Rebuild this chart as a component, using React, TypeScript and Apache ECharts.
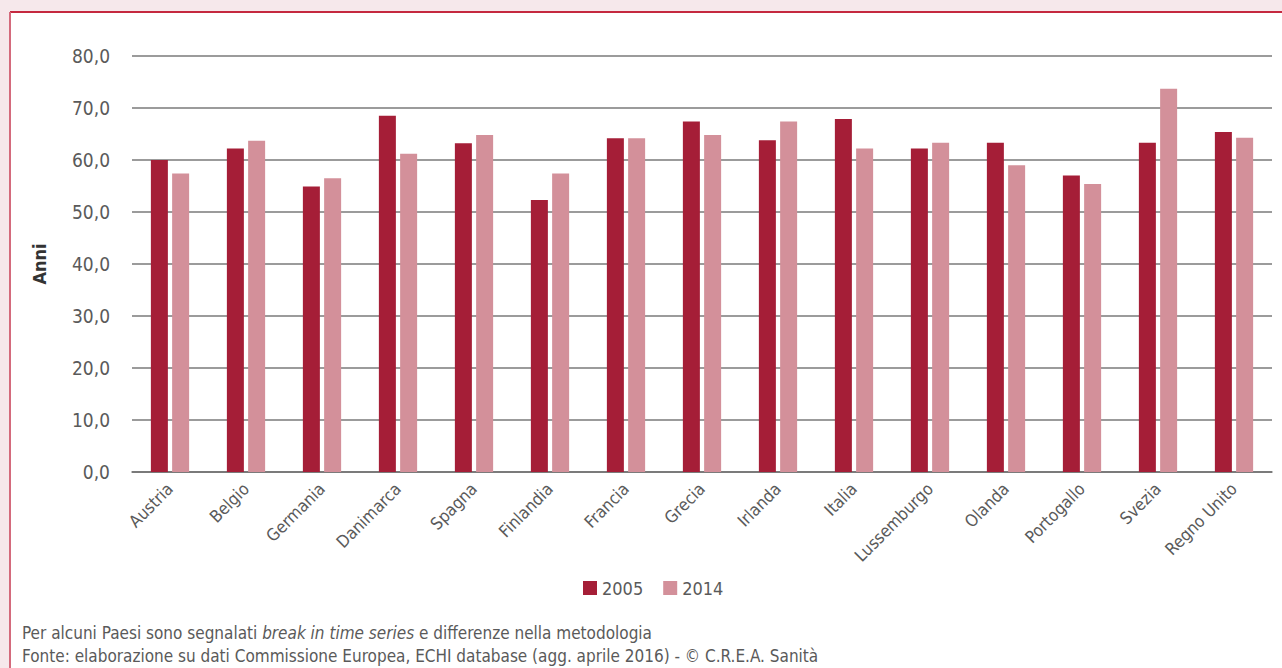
import React, { useEffect, useRef } from "react";
import * as echarts from "echarts";

const categories = [
  "Austria", "Belgio", "Germania", "Danimarca", "Spagna", "Finlandia", "Francia",
  "Grecia", "Irlanda", "Italia", "Lussemburgo", "Olanda", "Portogallo", "Svezia", "Regno Unito",
];
const values2005 = [60.0, 62.2, 54.9, 68.5, 63.2, 52.3, 64.2, 67.4, 63.8, 67.9, 62.2, 63.3, 57.0, 63.3, 65.4];
const values2014 = [57.4, 63.7, 56.5, 61.2, 64.8, 57.4, 64.2, 64.8, 67.4, 62.2, 63.3, 59.0, 55.4, 73.7, 64.3];
const seriesNames = ["2005", "2014"];
const yTicks = { min: 0, max: 80, interval: 10 };
const axisName = "Anni";
const note1a = "Per alcuni Paesi sono segnalati ";
const note1b = "break in time series";
const note1c = " e differenze nella metodologia";
const note2 = "Fonte: elaborazione su dati Commissione Europea, ECHI database (agg. aprile 2016) - © C.R.E.A. Sanità";

const FONT = "'Liberation Sans Narrow', 'DejaVu Sans Condensed', 'Roboto', sans-serif";
const DARK = "#a51e37";
const LIGHT = "#d3909a";
const TXT = "#5a5a5a";

export default function App() {
  const ref = useRef<HTMLDivElement>(null);
  useEffect(() => {
    if (!ref.current) return;
    const chart = echarts.init(ref.current, null, { renderer: "svg" });
    chart.setOption({
      animation: false,
      backgroundColor: "#f6e8eb",
      textStyle: { fontFamily: FONT },
      graphic: [
        { type: "rect", shape: { x: 10, y: 12, width: 1280, height: 670 }, style: { fill: "#ffffff" }, z: -10 },
        { type: "line", shape: { x1: 10, y1: 12, x2: 1282, y2: 12 }, style: { stroke: "#c5283f", lineWidth: 2 }, z: -9 },
        { type: "line", shape: { x1: 10, y1: 12, x2: 10, y2: 668 }, style: { stroke: "#d46a7c", lineWidth: 2 }, z: -9 },
        {
          type: "text", left: 22, top: 624,
          style: {
            text: `{n|${note1a}}{i|${note1b}}{n|${note1c}}`,
            rich: {
              n: { fontFamily: FONT, fontSize: 17, fill: TXT },
              i: { fontFamily: FONT, fontSize: 17, fill: TXT, fontStyle: "italic" },
            },
          },
        },
        { type: "text", left: 22, top: 647, style: { text: note2, fontFamily: FONT, fontSize: 17, fill: TXT } },
      ],
      grid: { left: 132, right: 10, top: 56, bottom: 196, containLabel: false },
      legend: {
        data: seriesNames,
        bottom: 66,
        left: 578,
        icon: "rect",
        itemWidth: 14,
        itemHeight: 14,
        itemGap: 20,
        textStyle: { fontFamily: FONT, fontSize: 18, color: TXT },
      },
      xAxis: {
        type: "category",
        data: categories,
        axisLine: { lineStyle: { color: "#707070", width: 1.5 } },
        axisTick: { show: false },
        axisLabel: { rotate: 45, fontFamily: FONT, fontSize: 17, color: TXT, margin: 14, interval: 0 },
      },
      yAxis: {
        type: "value",
        min: yTicks.min,
        max: yTicks.max,
        interval: yTicks.interval,
        name: axisName,
        nameLocation: "middle",
        nameGap: 84,
        nameTextStyle: { fontFamily: FONT, fontSize: 18, fontWeight: "bold", color: "#333" },
        axisLabel: {
          fontFamily: FONT, fontSize: 19, color: TXT, margin: 22,
          formatter: (v: number) => v.toFixed(1).replace(".", ","),
        },
        splitLine: { lineStyle: { color: "#7a7a7a", width: 1.5 } },
        axisLine: { show: false },
        axisTick: { show: false },
      },
      series: [
        { name: seriesNames[0], type: "bar", data: values2005, barWidth: 17, barGap: "25%", itemStyle: { color: DARK } },
        { name: seriesNames[1], type: "bar", data: values2014, barWidth: 17, barGap: "25%", itemStyle: { color: LIGHT } },
      ],
    });
    return () => chart.dispose();
  }, []);
  return (
    <div
      ref={ref}
      style={{ position: "fixed", left: 0, top: 0, width: 1282, height: 668 }}
    />
  );
}
